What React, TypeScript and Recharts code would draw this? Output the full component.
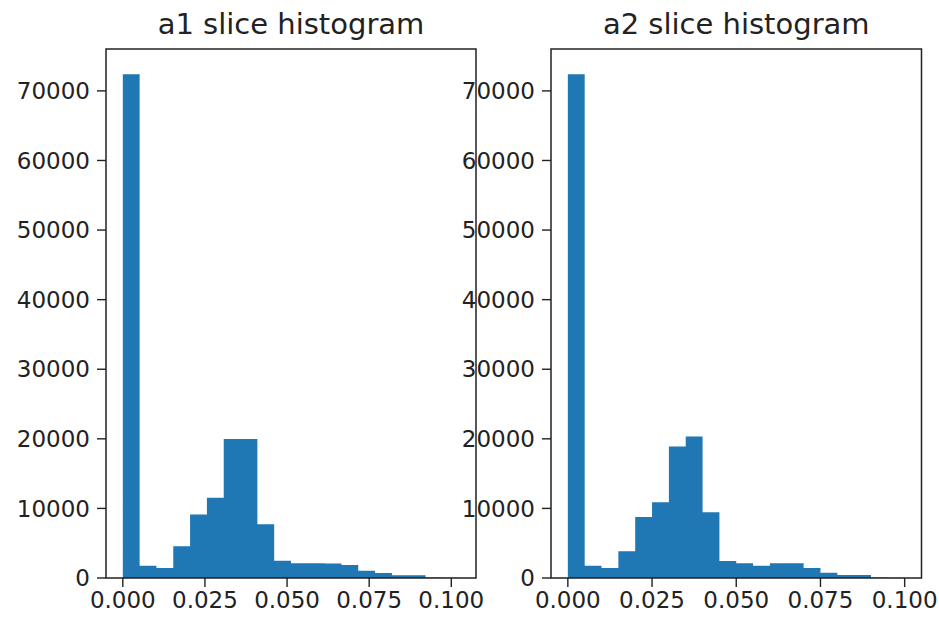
import React from 'react';
import { AreaChart, Area, XAxis, YAxis, ReferenceArea } from 'recharts';

// Histogram bin counts (20 equal-width bins per slice)
const a1Counts = [72400, 1770, 1440, 4560, 9110, 11550, 19960, 19960, 7730, 2490, 2120, 2120, 2100, 1870, 1050, 720, 390, 390, 60, 20];
const a2Counts = [72400, 1770, 1440, 3840, 8780, 10890, 18890, 20330, 9450, 2450, 2120, 1770, 2120, 2120, 1440, 760, 430, 430, 60, 20];

// Value range covered by the bins of each slice
const a1Range: [number, number] = [0, 0.1024];
const a2Range: [number, number] = [0, 0.1];

const xTicks = [0, 0.025, 0.05, 0.075, 0.1];
const yTicks = [0, 10000, 20000, 30000, 40000, 50000, 60000, 70000];
const titles = ['a1 slice histogram', 'a2 slice histogram'];

const W = 939;
const H = 624;
const FONT = '"DejaVu Sans", sans-serif';
const INK = '#222';
const BLUE = '#1f77b4';
const Y_AXIS_W = 100;
const X_AXIS_H = 40;
const PLOT_TOP = 49;
const PLOT_BOTTOM = 578;

type Step = { x: number; count: number };

// Turn bin counts into step points (left edge of each bin, plus the closing edge)
function toSteps(counts: number[], range: [number, number]): Step[] {
  const [lo, hi] = range;
  const w = (hi - lo) / counts.length;
  const pts = counts.map((c, i) => ({ x: lo + i * w, count: c }));
  pts.push({ x: hi, count: counts[counts.length - 1] });
  return pts;
}

type PanelProps = {
  counts: number[];
  range: [number, number];
  plotLeft: number;
  plotRight: number;
};

function HistPanel({ counts, range, plotLeft, plotRight }: PanelProps) {
  const data = toSteps(counts, range);
  const span = range[1] - range[0];
  const xDomain: [number, number] = [range[0] - 0.05 * span, range[1] + 0.05 * span];
  const yMax = Math.max(...counts) * 1.05;
  const tickStyle = { fill: INK, fontSize: 23, fontFamily: FONT };
  return (
    <div style={{ position: 'absolute', left: 0, top: 0 }}>
      <AreaChart
        width={W}
        height={H}
        data={data}
        margin={{
          top: PLOT_TOP,
          right: W - plotRight,
          bottom: H - PLOT_BOTTOM - X_AXIS_H,
          left: plotLeft - Y_AXIS_W,
        }}
      >
        <XAxis
          dataKey="x"
          type="number"
          domain={xDomain}
          allowDataOverflow
          ticks={xTicks}
          interval={0}
          tickFormatter={(v: number) => v.toFixed(3)}
          axisLine={false}
          tickLine={{ stroke: INK, strokeWidth: 1.4 }}
          tickSize={9}
          tickMargin={5}
          tick={tickStyle}
          height={X_AXIS_H}
        />
        <YAxis
          type="number"
          domain={[0, yMax]}
          allowDataOverflow
          ticks={yTicks}
          interval={0}
          axisLine={false}
          tickLine={{ stroke: INK, strokeWidth: 1.4 }}
          tickSize={9}
          tickMargin={7}
          tick={tickStyle}
          width={Y_AXIS_W}
        />
        <Area
          type="stepAfter"
          dataKey="count"
          stroke="none"
          fill={BLUE}
          fillOpacity={1}
          isAnimationActive={false}
          dot={false}
          activeDot={false}
        />
        <ReferenceArea
          x1={xDomain[0]}
          x2={xDomain[1]}
          y1={0}
          y2={yMax}
          fill="none"
          fillOpacity={0}
          stroke={INK}
          strokeWidth={1.5}
        />
      </AreaChart>
    </div>
  );
}

export default function App() {
  const panels = [
    { counts: a1Counts, range: a1Range, plotLeft: 106, plotRight: 476 },
    { counts: a2Counts, range: a2Range, plotLeft: 551, plotRight: 921.5 },
  ];
  return (
    <div style={{ position: 'absolute', left: 0, top: 0, width: W, height: H, background: '#fff' }}>
      {panels.map((p, i) => (
        <HistPanel key={i} {...p} />
      ))}
      <svg width={W} height={H} style={{ position: 'absolute', left: 0, top: 0, pointerEvents: 'none' }}>
        {panels.map((p, i) => (
          <text
            key={i}
            x={(p.plotLeft + p.plotRight) / 2}
            y={34}
            textAnchor="middle"
            fontFamily={FONT}
            fontSize={29}
            fill={INK}
          >
            {titles[i]}
          </text>
        ))}
      </svg>
    </div>
  );
}
